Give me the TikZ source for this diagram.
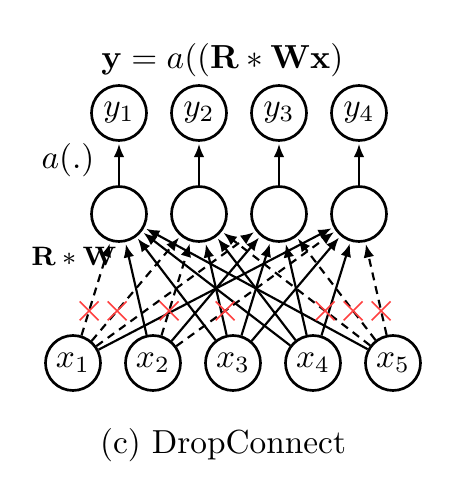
\documentclass[tikz,border=0pt]{standalone}
\usepackage{amsmath,amssymb}
\usepackage{xcolor}
\usepackage{tikz}
\usetikzlibrary{positioning,arrows.meta,calc,shapes.misc}

\begin{document}
\begin{tikzpicture}[
    neuron/.style={circle, draw, thick, minimum size=16.5pt, inner sep=0pt},
    conn/.style={line width=0.65pt, -{Latex[length=4pt, width=3.2pt]}, shorten >=0.6pt},
    dropped/.style={conn, dash pattern=on 2.4pt off 1.8pt},
    dropmark/.style={cross out, draw=red!75, line width=0.45pt, minimum size=5.2pt, inner sep=0pt},
  ]
  % Inputs
  \node[neuron] (x1) {$x_1$};
  \node[neuron, right=6.7pt of x1] (x2) {$x_2$};
  \node[neuron, right=6.7pt of x2] (x3) {$x_3$};
  \node[neuron, right=6.7pt of x3] (x4) {$x_4$};
  \node[neuron, right=6.7pt of x4] (x5) {$x_5$};

  % Hidden units
  \node[neuron, above=27.4pt of x1, xshift=13.8pt] (h1) {};
  \node[neuron, right=6.7pt of h1] (h2) {};
  \node[neuron, right=6.7pt of h2] (h3) {};
  \node[neuron, right=6.7pt of h3] (h4) {};

  % Outputs
  \node[neuron, above=13pt of h1] (y1) {$y_1$};
  \node[neuron, above=13pt of h2] (y2) {$y_2$};
  \node[neuron, above=13pt of h3] (y3) {$y_3$};
  \node[neuron, above=13pt of h4] (y4) {$y_4$};

  % Edges (inputs -> hidden)
  \draw[dropped] (x1) -- (h1);
  \draw[dropped] (x1) -- (h2);
  \draw[dropped] (x1) -- (h3);
  \draw[conn] (x1) -- (h4);
  \draw[conn] (x2) -- (h1);
  \draw[dropped] (x2) -- (h2);
  \draw[conn] (x2) -- (h3);
  \draw[dropped] (x2) -- (h4);
  \draw[conn] (x3) -- (h1);
  \draw[conn] (x3) -- (h2);
  \draw[conn] (x3) -- (h3);
  \draw[conn] (x3) -- (h4);
  \draw[conn] (x4) -- (h1);
  \draw[conn] (x4) -- (h2);
  \draw[conn] (x4) -- (h3);
  \draw[conn] (x4) -- (h4);
  \draw[conn] (x5) -- (h1);
  \draw[dropped] (x5) -- (h2);
  \draw[dropped] (x5) -- (h3);
  \draw[dropped] (x5) -- (h4);

  % Dropped weights
  \node[dropmark] (d11) at ($(x1)!0.35!(h1)$) {};
  \node[dropmark] (d12) at ($(x1)!0.35!(h2)$) {};
  \node[dropmark] (d22) at ($(x2)!0.35!(h2)$) {};
  \node[dropmark] (d24) at ($(x2)!0.35!(h4)$) {};
  \node[dropmark] (d52) at ($(x5)!0.35!(h2)$) {};
  \node[dropmark] (d53) at ($(x5)!0.35!(h3)$) {};
  \node[dropmark] (d54) at ($(x5)!0.35!(h4)$) {};

  % Edges (hidden -> outputs)
  \draw[conn] (h1) -- (y1);
  \draw[conn] (h2) -- (y2);
  \draw[conn] (h3) -- (y3);
  \draw[conn] (h4) -- (y4);

  % Labels
  \node (title) at ($(y2)!0.5!(y3)+(-5pt,15.9pt)$) {$\mathbf{y}=a((\mathbf{R}*\mathbf{W}\mathbf{x})$};
  \node (act) at ($(y1)!0.5!(h1)+(-15.3pt,1pt)$) {$a(.)$};
  \node[font=\footnotesize] (rw) at ($(h1)+(-13.5pt,-12.6pt)$) {$\mathbf{R}*\mathbf{W}$};
  \node (caption) at ($(x3)+(-3pt,-24.6pt)$) {(c) DropConnect};

  \useasboundingbox ($(x1)+(-21.9pt,-35.1pt)$) rectangle ($(x1)+(114pt,108.9pt)$);
\end{tikzpicture}
\end{document}
